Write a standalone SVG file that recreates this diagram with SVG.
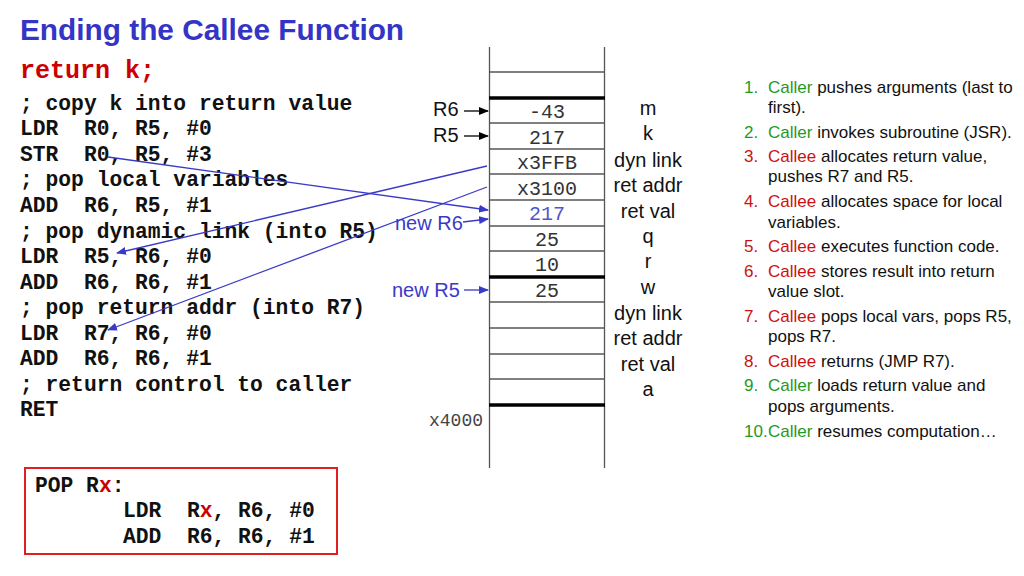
<svg xmlns="http://www.w3.org/2000/svg" width="1024" height="576" viewBox="0 0 1024 576">
<style>
.title{font-family:"Liberation Sans",Arial,sans-serif;font-weight:bold;font-size:29.8px;fill:#3434c6}
.code{font-family:"Liberation Mono","Courier New",monospace;font-weight:bold;font-size:21.3px;fill:#111}
.red{fill:#cc0000}
.cell{font-family:"Liberation Mono","Courier New",monospace;font-size:20px;fill:#333;text-anchor:middle}
.lbl{font-family:"Liberation Sans",Arial,sans-serif;font-size:20px;fill:#111}
.lblc{text-anchor:middle}
.blue{fill:#3a3ac8}
.list{font-family:"Liberation Sans",Arial,sans-serif;font-size:17px;fill:#111}
.g{fill:#1f9a1f}
.r{fill:#cc1111}
.thin{stroke:#555;stroke-width:1.3}
.thick{stroke:#000;stroke-width:3.5}
.conn{stroke:#3a3ac8;stroke-width:1.3;fill:none;marker-end:url(#ab)}
.ptr{stroke:#000;stroke-width:1.3;fill:none;marker-end:url(#ak)}
</style>
<defs>
<marker id="ab" markerWidth="10" markerHeight="8" refX="9" refY="4" orient="auto" markerUnits="userSpaceOnUse"><path d="M0,0 L10,4 L0,8 Z" fill="#3a3ac8"/></marker>
<marker id="ak" markerWidth="10" markerHeight="8" refX="9" refY="4" orient="auto" markerUnits="userSpaceOnUse"><path d="M0,0 L10,4 L0,8 Z" fill="#000"/></marker>
</defs>
<rect width="1024" height="576" fill="#fff"/>
<text class="title" x="20" y="40">Ending the Callee Function</text>
<g id="code">
<text class="code red" x="20" y="78" style="font-size:25px">return k;</text>
<text class="code" x="20" y="110" xml:space="preserve">; copy k into return value</text>
<text class="code" x="20" y="135" xml:space="preserve">LDR  R0, R5, #0</text>
<text class="code" x="20" y="161" xml:space="preserve">STR  R0, R5, #3</text>
<text class="code" x="20" y="186" xml:space="preserve">; pop local variables</text>
<text class="code" x="20" y="212" xml:space="preserve">ADD  R6, R5, #1</text>
<text class="code" x="20" y="238" xml:space="preserve">; pop dynamic link (into R5)</text>
<text class="code" x="20" y="263" xml:space="preserve">LDR  R5, R6, #0</text>
<text class="code" x="20" y="289" xml:space="preserve">ADD  R6, R6, #1</text>
<text class="code" x="20" y="314" xml:space="preserve">; pop return addr (into R7)</text>
<text class="code" x="20" y="340" xml:space="preserve">LDR  R7, R6, #0</text>
<text class="code" x="20" y="365" xml:space="preserve">ADD  R6, R6, #1</text>
<text class="code" x="20" y="391" xml:space="preserve">; return control to caller</text>
<text class="code" x="20" y="416" xml:space="preserve">RET</text>
</g>
<g id="stack">
<line class="thin" x1="489.5" y1="47" x2="489.5" y2="468"/>
<line class="thin" x1="604.5" y1="47" x2="604.5" y2="468"/>
<line class="thin" x1="489" y1="72" x2="605" y2="72"/>
<line class="thick" x1="489" y1="98" x2="605" y2="98"/>
<line class="thin" x1="489" y1="123" x2="605" y2="123"/>
<line class="thin" x1="489" y1="149" x2="605" y2="149"/>
<line class="thin" x1="489" y1="174" x2="605" y2="174"/>
<line class="thin" x1="489" y1="200" x2="605" y2="200"/>
<line class="thin" x1="489" y1="226" x2="605" y2="226"/>
<line class="thin" x1="489" y1="251" x2="605" y2="251"/>
<line class="thick" x1="489" y1="277" x2="605" y2="277"/>
<line class="thin" x1="489" y1="302" x2="605" y2="302"/>
<line class="thin" x1="489" y1="328" x2="605" y2="328"/>
<line class="thin" x1="489" y1="354" x2="605" y2="354"/>
<line class="thin" x1="489" y1="379" x2="605" y2="379"/>
<line class="thick" x1="489" y1="405" x2="605" y2="405"/>
<text class="cell" x="547" y="118">-43</text>
<text class="cell" x="547" y="144">217</text>
<text class="cell" x="547" y="169">x3FFB</text>
<text class="cell" x="547" y="195">x3100</text>
<text class="cell" x="547" y="220" style="fill:#5555c8">217</text>
<text class="cell" x="547" y="246">25</text>
<text class="cell" x="547" y="271">10</text>
<text class="cell" x="547" y="297">25</text>
<text class="cell" x="483" y="426" style="text-anchor:end;font-size:18px;fill:#444">x4000</text>
</g>
<g id="labels">
<text class="lbl lblc" x="648" y="115">m</text>
<text class="lbl lblc" x="648" y="140">k</text>
<text class="lbl lblc" x="648" y="167">dyn link</text>
<text class="lbl lblc" x="648" y="192">ret addr</text>
<text class="lbl lblc" x="648" y="218">ret val</text>
<text class="lbl lblc" x="648" y="243">q</text>
<text class="lbl lblc" x="648" y="268">r</text>
<text class="lbl lblc" x="648" y="294">w</text>
<text class="lbl lblc" x="648" y="320">dyn link</text>
<text class="lbl lblc" x="648" y="345">ret addr</text>
<text class="lbl lblc" x="648" y="371">ret val</text>
<text class="lbl lblc" x="648" y="396">a</text>
</g>
<g id="pointers">
<text class="lbl" x="433" y="116">R6</text>
<text class="lbl" x="433" y="142">R5</text>
<text class="lbl blue" x="395" y="230">new R6</text>
<text class="lbl blue" x="392" y="297">new R5</text>
</g>
<g id="connectors">
<line class="ptr" x1="464" y1="111" x2="488" y2="111"/>
<line class="ptr" x1="464" y1="136" x2="488" y2="136"/>
<line class="conn" x1="463" y1="222" x2="488" y2="219"/>
<line class="conn" x1="464" y1="290" x2="488" y2="290"/>
<line class="conn" x1="108" y1="157" x2="488" y2="210"/>
<line class="conn" x1="487" y1="166" x2="117" y2="253"/>
<line class="conn" x1="487" y1="187" x2="108" y2="330"/>
</g>
<g id="steps" class="list">
<text x="744" y="93"><tspan class="g">1.</tspan></text>
<text x="768" y="93"><tspan class="g">Caller</tspan> pushes arguments (last to</text>
<text x="768" y="113">first).</text>
<text x="744" y="138"><tspan class="g">2.</tspan></text>
<text x="768" y="138"><tspan class="g">Caller</tspan> invokes subroutine (JSR).</text>
<text x="744" y="162"><tspan class="r">3.</tspan></text>
<text x="768" y="162"><tspan class="r">Callee</tspan> allocates return value,</text>
<text x="768" y="182">pushes R7 and R5.</text>
<text x="744" y="207"><tspan class="r">4.</tspan></text>
<text x="768" y="207"><tspan class="r">Callee</tspan> allocates space for local</text>
<text x="768" y="228">variables.</text>
<text x="744" y="252"><tspan class="r">5.</tspan></text>
<text x="768" y="252"><tspan class="r">Callee</tspan> executes function code.</text>
<text x="744" y="277"><tspan class="r">6.</tspan></text>
<text x="768" y="277"><tspan class="r">Callee</tspan> stores result into return</text>
<text x="768" y="297">value slot.</text>
<text x="744" y="322"><tspan class="r">7.</tspan></text>
<text x="768" y="322"><tspan class="r">Callee</tspan> pops local vars, pops R5,</text>
<text x="768" y="342">pops R7.</text>
<text x="744" y="367"><tspan class="r">8.</tspan></text>
<text x="768" y="367"><tspan class="r">Callee</tspan> returns (JMP R7).</text>
<text x="744" y="391"><tspan class="g">9.</tspan></text>
<text x="768" y="391"><tspan class="g">Caller</tspan> loads return value and</text>
<text x="768" y="412">pops arguments.</text>
<text x="744" y="437"><tspan class="g">10.</tspan></text>
<text x="768" y="437"><tspan class="g">Caller</tspan> resumes computation…</text>
</g>
<g id="popbox">
<rect x="25" y="468" width="312" height="86" fill="#fff" stroke="#e02020" stroke-width="2"/>
<text class="code" x="35" y="492">POP R<tspan class="red">x</tspan>:</text>
<text class="code" x="123" y="517" xml:space="preserve">LDR  R<tspan class="red">x</tspan>, R6, #0</text>
<text class="code" x="123" y="543" xml:space="preserve">ADD  R6, R6, #1</text>
</g>
</svg>
